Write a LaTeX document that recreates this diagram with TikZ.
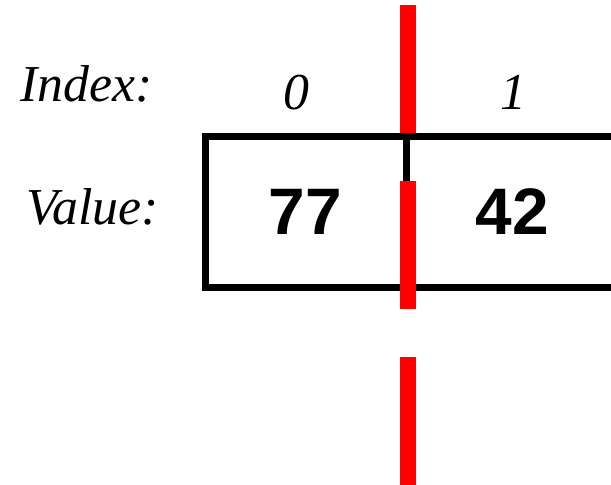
\documentclass[tikz,border=0pt]{standalone}
\usepackage{fontspec}
\setmainfont{Liberation Serif}
\setsansfont{Liberation Sans}
\usetikzlibrary{positioning}
\tikzset{
  every picture/.style={x=1bp, y=-1bp},
  cell/.style={draw=black, line width=7bp, outer sep=0pt, inner sep=0pt,
    minimum width=201bp, minimum height=150.5bp,
    font=\sffamily\bfseries\fontsize{66}{70}\selectfont},
  lbl/.style={font=\itshape\fontsize{52}{56}\selectfont, inner sep=0pt},
  cut/.style={draw=red, line width=16bp, dash pattern=on 128bp off 48bp},
}
\begin{document}
\begin{tikzpicture}
  \useasboundingbox (0,0) rectangle (611,485);
  \clip (0,0) rectangle (611,485);

  % ---- row labels
  \node[lbl, anchor=base west] (idxlbl) at (20,102) {Index:};
  \node[lbl, anchor=base west] (vallbl) at (26,225) {Value:};

  % ---- array cells
  \node[cell] (c0) at (305.5,211.75) {77\hspace{10bp}};
  \node[cell, minimum width=212bp, anchor=west] (c1) at (c0.east) {42};
  \node[lbl, anchor=base] (i0) at (296,110) {0};
  \node[lbl, anchor=base] (i1) at (513,110) {1};

  % ---- split line
  \coordinate (cuttop) at (408,5);
  \coordinate (cutbot) at (408,485);
  \draw[cut] (cuttop) -- (cutbot);
\end{tikzpicture}
\end{document}
